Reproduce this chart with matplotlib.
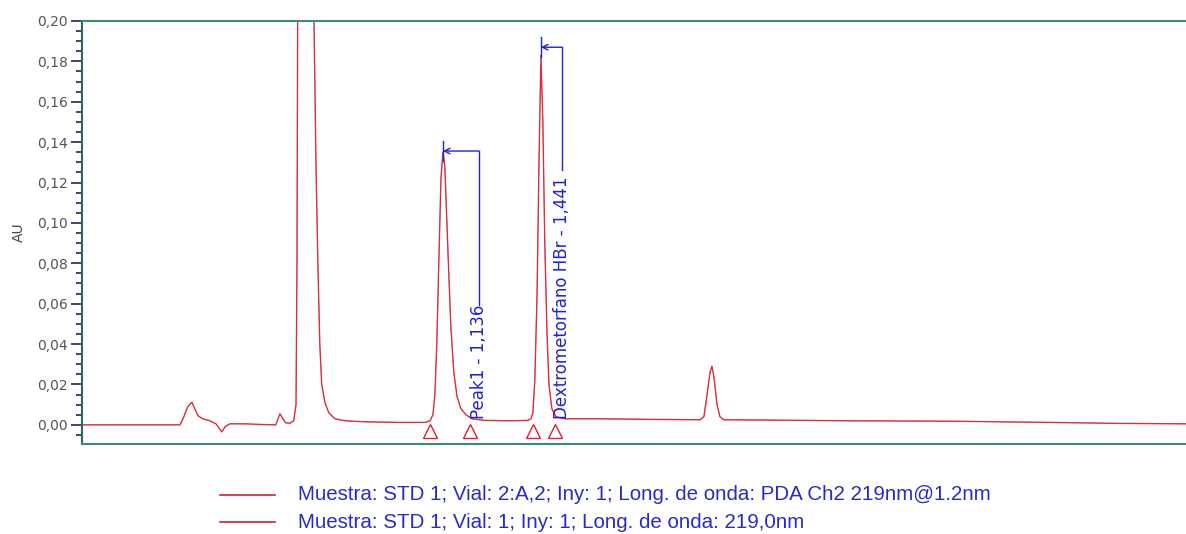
import matplotlib
matplotlib.use("Agg")
import matplotlib.pyplot as plt
from matplotlib.ticker import MultipleLocator, FuncFormatter
from matplotlib.lines import Line2D

# chromatogram (time in min, absorbance in AU)
time = [0.013, 0.131, 0.318, 0.330, 0.342, 0.355, 0.364, 0.374, 0.389, 0.411,
        0.430, 0.439, 0.448, 0.458, 0.473, 0.520, 0.567, 0.616, 0.623, 0.629,
        0.638, 0.647, 0.660, 0.672, 0.679, 0.682, 0.685, 0.697, 0.710, 0.722,
        0.735, 0.741, 0.747, 0.753, 0.759, 0.769, 0.781, 0.800, 0.831, 0.893,
        1.002, 1.080, 1.096, 1.105, 1.111, 1.117, 1.124, 1.130, 1.136, 1.142,
        1.148, 1.155, 1.161, 1.170, 1.180, 1.192, 1.208, 1.226, 1.267, 1.344,
        1.400, 1.410, 1.416, 1.422, 1.429, 1.435, 1.441, 1.447, 1.453, 1.460,
        1.466, 1.475, 1.488, 1.516, 1.625, 1.780, 1.936, 1.948, 1.957, 1.967,
        1.973, 1.979, 1.989, 1.998, 2.010, 2.122, 2.403, 2.714, 3.025, 3.243,
        3.448]
au = [0.000, 0.000, 0.000, 0.004, 0.009, 0.0112, 0.008, 0.0045, 0.003, 0.002,
      0.0005, -0.0015, -0.0035, -0.001, 0.0005, 0.0005, 0.0002, 0.000, 0.003, 0.0055,
      0.003, 0.001, 0.0008, 0.002, 0.010, 0.080, 0.250, 0.450, 0.520, 0.450,
      0.200, 0.130, 0.080, 0.040, 0.020, 0.011, 0.006, 0.003, 0.002, 0.0015,
      0.0012, 0.0012, 0.002, 0.005, 0.015, 0.040, 0.085, 0.122, 0.135, 0.128,
      0.102, 0.072, 0.048, 0.026, 0.014, 0.008, 0.005, 0.003, 0.0022, 0.002,
      0.0022, 0.003, 0.006, 0.022, 0.065, 0.130, 0.183, 0.150, 0.090, 0.045,
      0.020, 0.008, 0.004, 0.003, 0.003, 0.0027, 0.0025, 0.004, 0.014, 0.026,
      0.029, 0.024, 0.010, 0.004, 0.0025, 0.0024, 0.002, 0.0018, 0.0012, 0.0007,
      0.0005]

# integration start/end marks
marks_t = [1.096, 1.220, 1.416, 1.485]
marks_y = [-0.003, -0.003, -0.003, -0.003]

peak_names = ["Peak1 - 1,136", "Dextrometorfano HBr - 1,441"]
peak_t = [1.136, 1.441]
peak_h = [0.1356, 0.187]
label_t = [1.248, 1.506]
label_top = [0.0594, 0.126]

legend_labels = ["Muestra: STD 1; Vial: 2:A,2; Iny: 1; Long. de onda: PDA Ch2 219nm@1.2nm",
                 "Muestra: STD 1; Vial: 1; Iny: 1; Long. de onda: 219,0nm"]

fig = plt.figure(figsize=(11.86, 5.34), dpi=100)
ax = fig.add_axes([0.0691, 0.1685, 0.9309, 0.7922])

ax.plot(time, au, color="#e8404c", lw=1.0)
ax.plot(time, au, color="#c02040", lw=0.6, alpha=0.6)
ax.plot(marks_t, marks_y, ls="none", marker="^", ms=10, mfc="none", mec="#e02030", mew=1.0)

blue = "#2222cc"
for name, t, h, lt, top in zip(peak_names, peak_t, peak_h, label_t, label_top):
    ax.plot([t, t], [h - 0.005, h + 0.005], color=blue, lw=1)
    ax.annotate("", xy=(t, h), xytext=(lt, h),
                arrowprops=dict(arrowstyle="->", color=blue, lw=1, shrinkA=0, shrinkB=0))
    ax.plot([lt, lt], [h, top], color=blue, lw=1)
    ax.text(lt, 0.003, name, rotation=90, ha="center", va="bottom", color=blue, fontsize=12)

ax.set_xlim(0.013, 3.448)
ax.set_ylim(-0.0095, 0.20)
ax.yaxis.set_major_locator(MultipleLocator(0.02))
ax.yaxis.set_minor_locator(MultipleLocator(0.005))
ax.yaxis.set_major_formatter(FuncFormatter(lambda v, p: f"{v:.2f}".replace(".", ",")))
ax.tick_params(axis="y", which="major", length=8, width=1.2, color="#1a2a5a",
               labelsize=10, labelcolor="#555555", pad=2)
ax.tick_params(axis="y", which="minor", length=4, width=1.2, color="#1a2a5a")
ax.set_xticks([])
ax.set_ylabel("AU", fontsize=10, color="#444444", labelpad=8)

for s in ["top", "bottom"]:
    ax.spines[s].set_color("#3a8f74")
    ax.spines[s].set_linewidth(1.5)
ax.spines["left"].set_color("#2a6a60")
ax.spines["left"].set_linewidth(1.5)
ax.spines["right"].set_visible(False)

for i, lab in enumerate(legend_labels):
    y = 1 - (495 + 27 * i) / 534
    fig.add_artist(Line2D([220 / 1186, 275 / 1186], [y, y], color="#d02030", lw=1.2))
    fig.text(298 / 1186, y, lab, va="center", ha="left", color="#2a2ac8",
             fontsize=14.8, family="Liberation Sans")

fig.savefig("out.png", dpi=100)
